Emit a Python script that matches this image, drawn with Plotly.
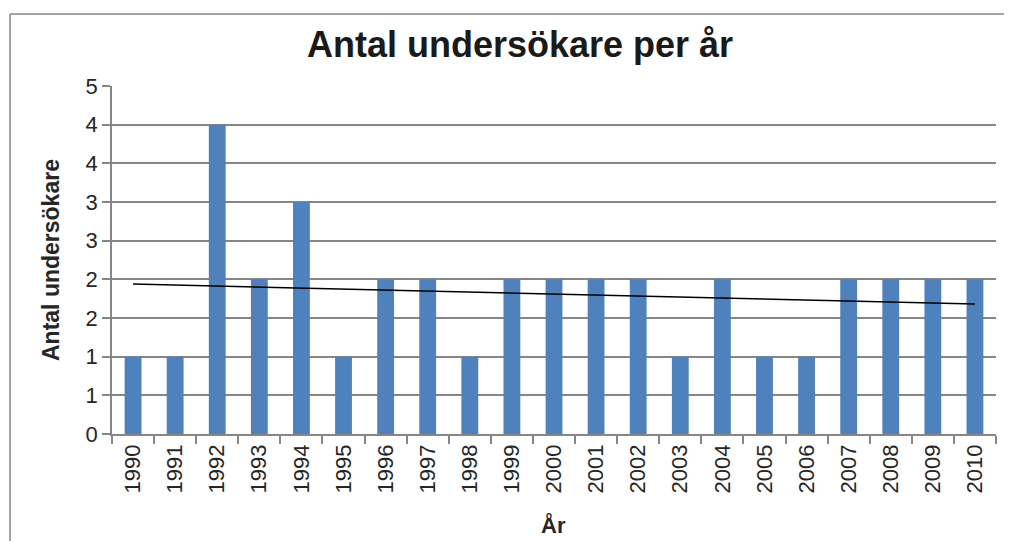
import numpy as np
import plotly.graph_objects as go

years = [str(y) for y in range(1990, 2011)]
counts = [1, 1, 4, 2, 3, 1, 2, 2, 1, 2, 2, 2, 2, 1, 2, 1, 1, 2, 2, 2, 2]
y_tickvals = [0, 0.5, 1, 1.5, 2, 2.5, 3, 3.5, 4, 4.5]
y_ticktext = ["0", "1", "1", "2", "2", "3", "3", "4", "4", "5"]

# linear trendline (least squares, as Excel)
xi = np.arange(len(counts))
slope, intercept = np.polyfit(xi, counts, 1)
trend = slope * xi + intercept

# page has an 8px body margin: work in page pixels, convert to figure pixels
OFF = 8
W, H = 1012 - OFF, 541 - OFF
PL, PR, PT, PB = 112, 996, 86, 434          # plot area in page pixels
L, T = PL - OFF, PT - OFF
R = W - (PR - OFF)
B = H - (PB - OFF)
pw, ph = W - L - R, H - T - B

FONT = "Liberation Sans, Arial, sans-serif"
GRID = "#868686"
TXT = "#262626"

fig = go.Figure()
fig.add_trace(go.Bar(x=years, y=counts, marker_color="#4F81BD",
                     marker_line_width=0, showlegend=False))
fig.add_trace(go.Scatter(x=years, y=trend, mode="lines",
                         line=dict(color="#000000", width=1.5), showlegend=False))

def px_x(p):
    return (p - PL) / pw

def px_y(p):
    return (PB - p) / ph

# chart-area frame: top and left edges (the others fall outside the picture)
fig.add_shape(type="line", xref="paper", yref="paper",
              x0=px_x(10), x1=px_x(1030), y0=px_y(14), y1=px_y(14),
              line=dict(color=GRID, width=1.5), layer="below")
fig.add_shape(type="line", xref="paper", yref="paper",
              x0=px_x(10), x1=px_x(10), y0=px_y(14), y1=px_y(560),
              line=dict(color=GRID, width=1.5), layer="below")

fig.add_annotation(text="<b>Antal undersökare</b>", xref="paper", yref="paper",
                   x=px_x(51), y=px_y(260), textangle=-90, showarrow=False,
                   xanchor="center", yanchor="middle",
                   font=dict(family=FONT, size=23, color=TXT))
fig.add_annotation(text="<b>År</b>", xref="paper", yref="paper",
                   x=px_x(553), y=px_y(525), showarrow=False,
                   xanchor="center", yanchor="middle",
                   font=dict(family=FONT, size=22, color=TXT))

fig.update_layout(
    width=W, height=H,
    margin=dict(l=L, r=R, t=T, b=B),
    paper_bgcolor="white", plot_bgcolor="white",
    bargap=0.6,
    font=dict(family=FONT, color=TXT, size=22),
    title=dict(text="<b>Antal undersökare per år</b>", x=(520 - OFF) / W, xanchor="center",
               y=1 - (44 - OFF) / H, yanchor="middle", xref="container", yref="container",
               font=dict(family=FONT, size=36, color="#1a1a1a")),
    xaxis=dict(type="category", showgrid=False, showline=True, linecolor=GRID, linewidth=1.5,
               ticks="outside", tickson="boundaries", ticklen=8, tickcolor=GRID, tickwidth=1.5,
               tickangle=-90, tickfont=dict(size=22), automargin=False),
    yaxis=dict(range=[0, 4.5], tickvals=y_tickvals, ticktext=y_ticktext,
               showgrid=True, gridcolor=GRID, gridwidth=1.5,
               showline=True, linecolor=GRID, linewidth=1.5,
               ticks="outside", ticklen=8, tickcolor=GRID, tickwidth=1.5,
               tickfont=dict(size=22), zeroline=False, automargin=False),
)

fig.write_html("out.html")
